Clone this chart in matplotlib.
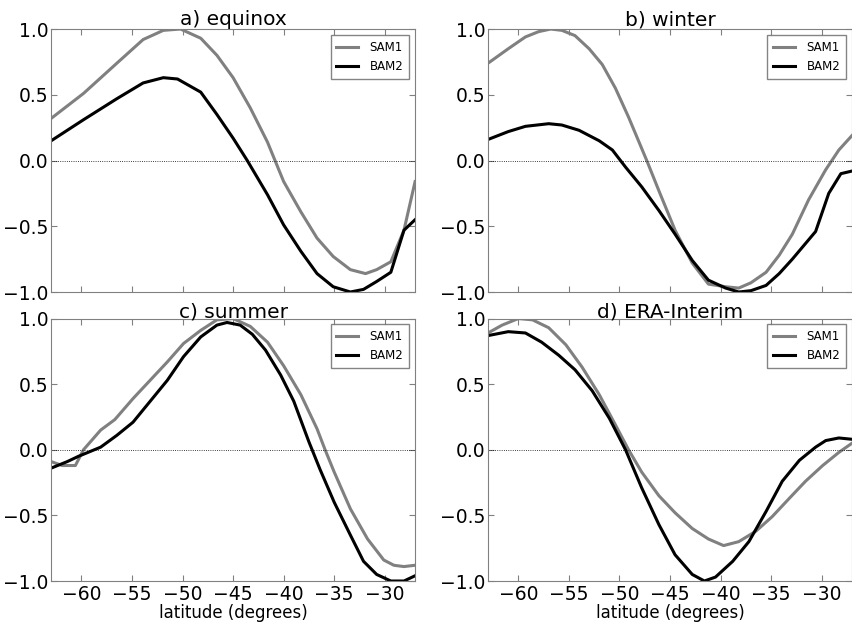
import numpy as np
import matplotlib.pyplot as plt

# a) equinox
lat_a_sam = [-63.0, -59.8, -56.5, -53.9, -51.9, -50.2, -48.2, -46.6, -45.0, -43.3,
             -41.6, -40.0, -38.3, -36.7, -35.1, -33.4, -31.9, -30.8, -29.4, -28.1,
             -27.0]
sam_a = [0.32, 0.51, 0.74, 0.92, 0.99, 1.0, 0.93, 0.80, 0.63, 0.40,
         0.14, -0.16, -0.39, -0.59, -0.73, -0.83, -0.86, -0.83, -0.77, -0.53,
         -0.16]
lat_a_bam = [-63.0, -59.8, -56.5, -53.9, -51.9, -50.5, -48.2, -46.6, -45.0, -43.6,
             -41.6, -40.0, -38.3, -36.7, -35.1, -33.4, -32.1, -30.8, -29.4, -28.1,
             -27.0]
bam_a = [0.15, 0.31, 0.47, 0.59, 0.63, 0.62, 0.52, 0.35, 0.17, 0.0,
         -0.26, -0.49, -0.69, -0.86, -0.96, -1.0, -0.98, -0.92, -0.85, -0.53,
         -0.45]

# b) winter
lat_b_sam = [-63.0, -61.0, -59.3, -58.0, -56.8, -55.7, -54.4, -53.0, -51.7, -50.4,
             -49.1, -47.3, -46.1, -44.5, -42.8, -41.2, -39.5, -38.2, -37.0, -35.5,
             -34.2, -32.9, -31.3, -29.6, -28.3, -27.0]
sam_b = [0.74, 0.85, 0.94, 0.98, 1.0, 0.99, 0.95, 0.85, 0.73, 0.55,
         0.33, 0.0, -0.23, -0.53, -0.78, -0.94, -0.96, -0.97, -0.93, -0.85,
         -0.72, -0.56, -0.30, -0.07, 0.08, 0.19]
lat_b_bam = [-63.0, -61.0, -59.3, -57.0, -55.7, -54.0, -52.0, -50.7, -49.4, -47.8,
             -46.1, -44.5, -42.8, -41.2, -39.5, -38.2, -37.0, -35.5, -34.2, -32.9,
             -30.6, -29.3, -28.1, -27.0]
bam_b = [0.16, 0.22, 0.26, 0.28, 0.27, 0.23, 0.15, 0.08, -0.05, -0.20,
         -0.38, -0.56, -0.76, -0.91, -0.97, -1.0, -0.99, -0.95, -0.86, -0.75,
         -0.54, -0.25, -0.10, -0.08]

# c) summer
lat_c_sam = [-63.0, -61.9, -60.6, -59.8, -58.1, -56.7, -54.9, -53.2, -51.5, -49.9,
             -48.2, -46.6, -45.0, -43.3, -41.6, -40.0, -38.3, -36.7, -35.9, -35.0,
             -33.4, -31.7, -30.1, -29.1, -28.1, -27.0]
sam_c = [-0.09, -0.12, -0.12, 0.0, 0.15, 0.23, 0.39, 0.53, 0.67, 0.81,
         0.91, 0.99, 1.0, 0.94, 0.82, 0.64, 0.42, 0.16, 0.0, -0.17,
         -0.45, -0.68, -0.84, -0.88, -0.89, -0.88]
lat_c_bam = [-63.0, -61.4, -60.3, -58.1, -56.5, -54.9, -53.2, -51.5, -49.9, -48.2,
             -46.6, -45.6, -44.3, -43.1, -41.8, -40.3, -39.0, -37.5, -36.4, -35.0,
             -33.4, -32.1, -30.8, -29.4, -28.1, -27.0]
bam_c = [-0.14, -0.09, -0.05, 0.02, 0.11, 0.21, 0.37, 0.53, 0.71, 0.86,
         0.95, 0.97, 0.95, 0.88, 0.76, 0.57, 0.37, 0.06, -0.15, -0.40,
         -0.65, -0.85, -0.95, -1.0, -1.0, -0.96]

# d) ERA-Interim
lat_d_sam = [-63.0, -61.6, -60.0, -58.6, -57.0, -55.3, -53.7, -52.0, -50.4, -49.1,
             -47.8, -46.1, -44.5, -42.8, -41.2, -39.7, -38.2, -36.5, -34.9, -33.2,
             -31.6, -29.9, -28.3, -27.0]
sam_d = [0.89, 0.95, 1.0, 0.99, 0.93, 0.80, 0.63, 0.42, 0.19, 0.0,
         -0.17, -0.35, -0.48, -0.60, -0.68, -0.73, -0.70, -0.62, -0.51, -0.37,
         -0.24, -0.12, -0.02, 0.05]
lat_d_bam = [-63.0, -61.0, -59.3, -57.7, -56.0, -54.4, -52.7, -51.0, -49.4, -47.8,
             -46.1, -44.5, -42.8, -41.6, -40.5, -38.8, -37.2, -35.5, -33.9, -32.2,
             -30.6, -29.6, -28.3, -27.0]
bam_d = [0.87, 0.90, 0.89, 0.82, 0.72, 0.61, 0.45, 0.24, 0.0, -0.29,
         -0.57, -0.80, -0.95, -1.0, -0.97, -0.85, -0.70, -0.47, -0.24, -0.08,
         0.02, 0.07, 0.09, 0.08]

titles = ['a) equinox', 'b) winter', 'c) summer', 'd) ERA-Interim']
panels = [(lat_a_sam, sam_a, lat_a_bam, bam_a),
          (lat_b_sam, sam_b, lat_b_bam, bam_b),
          (lat_c_sam, sam_c, lat_c_bam, bam_c),
          (lat_d_sam, sam_d, lat_d_bam, bam_d)]

plt.rcParams['font.family'] = 'DejaVu Sans'
plt.rcParams['xtick.direction'] = 'in'
plt.rcParams['ytick.direction'] = 'in'

fig = plt.figure(figsize=(8.52, 6.23), dpi=100)
boxes = [[0.060, 0.5313, 0.4272, 0.4221],
         [0.5728, 0.5313, 0.4272, 0.4221],
         [0.060, 0.0674, 0.4272, 0.4213],
         [0.5728, 0.0674, 0.4272, 0.4213]]

for i, (box, title, (xs, ys, xb, yb)) in enumerate(zip(boxes, titles, panels)):
    ax = fig.add_axes(box)
    ax.plot(xs, ys, color='0.5', lw=2.2, label='SAM1')
    ax.plot(xb, yb, color='k', lw=2.2, label='BAM2')
    ax.axhline(0, color='k', lw=0.6, ls=':')
    ax.set_xlim(-63, -27)
    ax.set_ylim(-1, 1)
    ax.set_xticks([-60, -55, -50, -45, -40, -35, -30])
    ax.set_yticks([-1.0, -0.5, 0.0, 0.5, 1.0])
    ax.tick_params(top=True, right=True, labelsize=13.5, length=4,
                   color='0.5')
    ax.tick_params(axis='x', pad=3)
    ax.tick_params(axis='y', pad=2)
    for s in ax.spines.values():
        s.set_color('0.5')
    ax.set_title(title, fontsize=14.5, pad=1)
    leg = ax.legend(loc='upper right', fontsize=8.5, fancybox=False,
                    handlelength=1.8, handletextpad=1.0, borderpad=0.5)
    leg.get_frame().set_edgecolor('0.4')
    if i < 2:
        ax.tick_params(labelbottom=False)
    else:
        ax.set_xlabel('latitude (degrees)', fontsize=12, labelpad=0)

fig.savefig('out.png', dpi=100)
